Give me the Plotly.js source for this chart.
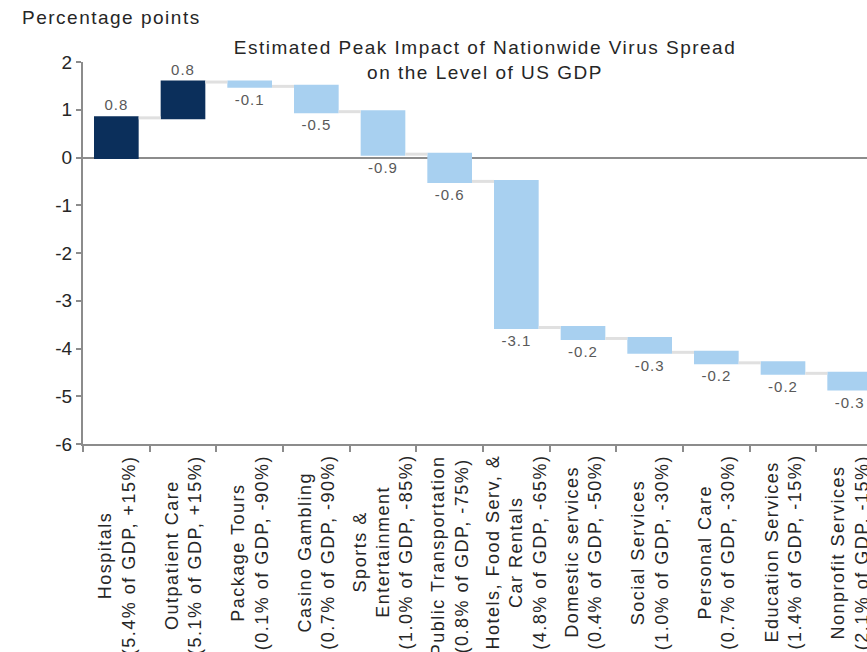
<!DOCTYPE html>
<html>
<head>
<meta charset="utf-8">
<script src="https://cdn.plot.ly/plotly-3.0.1.min.js"></script>
<style>
  html, body { margin: 0; padding: 0; background: #fff; }
  #chart { width: 867px; height: 652px; }
  .gtitle { letter-spacing: 1.5px; }
  .annotation-text { letter-spacing: 1.5px; }
  .bartext { letter-spacing: 1px; }
</style>
</head>
<body>
<div id="chart"></div>
<script>
// ---- data ----
const categories = [
  "Hospitals", "Outpatient Care", "Package Tours", "Casino Gambling",
  "Sports & Entertainment", "Public Transportation", "Hotels, Food Serv, & Car Rentals",
  "Domestic services", "Social Services", "Personal Care",
  "Education Services", "Nonprofit Services"
];
const tickLabels = [
  "Hospitals<br>(5.4% of GDP, +15%)",
  "Outpatient Care<br>(5.1% of GDP, +15%)",
  "Package Tours<br>(0.1% of GDP, -90%)",
  "Casino Gambling<br>(0.7% of GDP, -90%)",
  "Sports &<br>Entertainment<br>(1.0% of GDP, -85%)",
  "Public Transportation<br>(0.8% of GDP, -75%)",
  "Hotels, Food Serv, &<br>Car Rentals<br>(4.8% of GDP, -65%)",
  "Domestic services<br>(0.4% of GDP, -50%)",
  "Social Services<br>(1.0% of GDP, -30%)",
  "Personal Care<br>(0.7% of GDP, -30%)",
  "Education Services<br>(1.4% of GDP, -15%)",
  "Nonprofit Services<br>(2.1% of GDP, -15%)"
];
// contributions (percentage points)
const impacts = [0.83, 0.75, -0.09, -0.53, -0.89, -0.57, -3.06, -0.23, -0.29, -0.22, -0.22, -0.33];
// value labels as printed on the chart
const valueLabels = ["0.8", "0.8", "-0.1", "-0.5", "-0.9", "-0.6", "-3.1", "-0.2", "-0.3", "-0.2", "-0.2", "-0.3"];
// y axis ticks
const yTickValues = [-6, -5, -4, -3, -2, -1, 0, 1, 2];
const yTickText = ["-6", "-5", "-4", "-3", "-2", "-1", "0", "1", "2"];

const titleText = "Estimated Peak Impact of Nationwide Virus Spread<br>on the Level of US GDP";
const yUnitLabel = "Percentage points";

// ---- chart ----
const FONT = "Liberation Sans, Arial, sans-serif";
const trace = {
  type: "waterfall",
  x: categories,
  y: impacts,
  measure: categories.map(() => "relative"),
  text: valueLabels,
  textinfo: "text",
  textposition: "outside",
  constraintext: "none",
  cliponaxis: false,
  textfont: { family: FONT, size: 15, color: "#595959" },
  increasing: { marker: { color: "#0b2f5b", line: { width: 0 } } },
  decreasing: { marker: { color: "#a8d0f0", line: { width: 0 } } },
  connector: { mode: "between", line: { color: "#e0e0e0", width: 3 } },
  hoverinfo: "skip"
};

const annotations = tickLabels.map((t, i) => ({
  text: t,
  x: categories[i],
  xref: "x",
  y: 0,
  yref: "paper",
  yanchor: "top",
  xanchor: "center",
  yshift: -9,
  textangle: -90,
  align: "center",
  showarrow: false,
  font: { family: FONT, size: 18, color: "#262626" }
}));
annotations.push({
  text: yUnitLabel,
  xref: "paper", yref: "paper",
  x: -63 / 784, y: 1 + 44 / 382,
  xanchor: "left", yanchor: "middle",
  showarrow: false,
  font: { family: FONT, size: 19, color: "#262626" }
});

const layout = {
  width: 867,
  height: 652,
  margin: { l: 83, r: 0, t: 62, b: 208, pad: 0 },
  paper_bgcolor: "#ffffff",
  plot_bgcolor: "#ffffff",
  showlegend: false,
  waterfallgap: 0.33,
  title: {
    text: titleText,
    x: 485 / 867,
    xanchor: "center",
    y: 1 - 54 / 652,
    yanchor: "top",
    font: { family: FONT, size: 19, color: "#262626" }
  },
  xaxis: {
    type: "category",
    range: [-0.5, 11.26],
    showticklabels: false,
    ticks: "outside",
    tickson: "boundaries",
    ticklen: 6,
    tickwidth: 2,
    tickcolor: "#8c8c8c",
    showline: true,
    linecolor: "#8c8c8c",
    linewidth: 2,
    showgrid: false,
    zeroline: false,
    fixedrange: true
  },
  yaxis: {
    range: [-6, 2],
    tickmode: "array",
    tickvals: yTickValues,
    ticktext: yTickText,
    ticks: "outside",
    ticklen: 5,
    tickwidth: 2,
    tickcolor: "#8c8c8c",
    ticklabelstandoff: 0,
    showline: true,
    linecolor: "#8c8c8c",
    linewidth: 2,
    showgrid: false,
    zeroline: true,
    zerolinecolor: "#8c8c8c",
    zerolinewidth: 2,
    tickfont: { family: FONT, size: 19, color: "#262626" },
    fixedrange: true
  },
  annotations: annotations
};

Plotly.newPlot("chart", [trace], layout, { displayModeBar: false, staticPlot: true });
</script>
</body>
</html>
